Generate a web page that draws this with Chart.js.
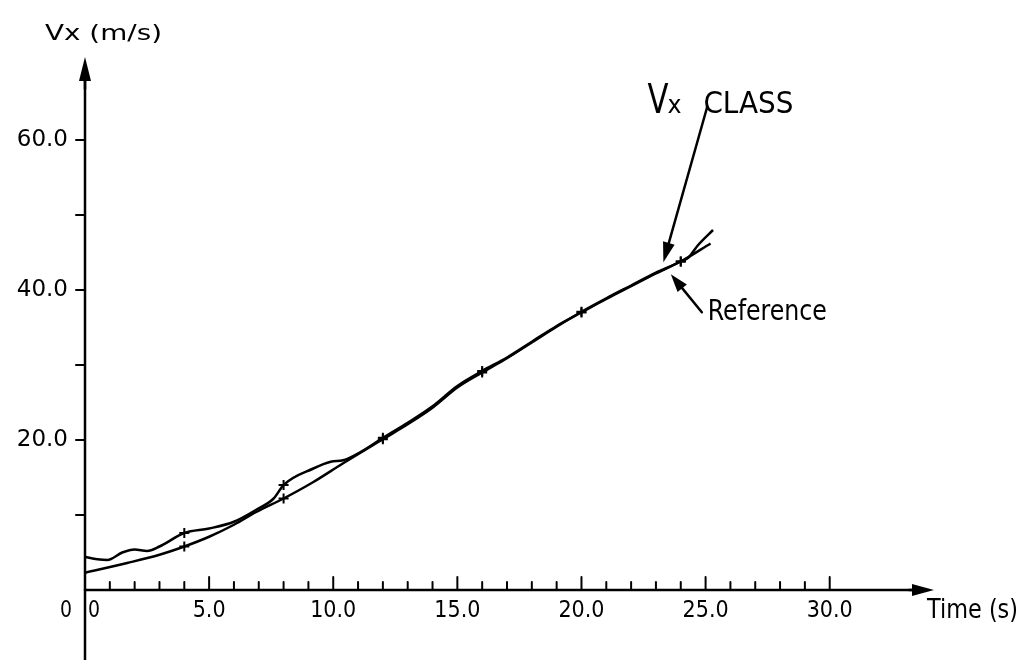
<!DOCTYPE html>
<html>
<head>
<meta charset="utf-8">
<script src="https://cdn.jsdelivr.net/npm/chart.js@4.4.1/dist/chart.umd.min.js"></script>
<style>
  html, body { margin: 0; padding: 0; background: #fff; }
  #wrap { width: 1024px; height: 660px; }
</style>
</head>
<body>
<div id="wrap"><canvas id="vxChart" width="1024" height="660"></canvas></div>
<script>
// Vx CLASS curve (wavy one)
const classTime = [0, 0.5, 0.9, 1.5, 2.0, 2.5, 3.0, 4, 5, 6, 6.9, 7.6, 8, 9.2, 9.9, 10.4, 11.1, 12, 13, 14, 15, 16, 17, 18, 19, 20, 21, 22, 23, 24, 24.3, 24.7, 25.3];
const classVx   = [4.4, 4.1, 4.0, 5.0, 5.4, 5.2, 5.8, 7.6, 8.2, 9.1, 10.7, 12.2, 14.0, 16.2, 17.1, 17.3, 18.4, 20.3, 22.3, 24.5, 27.2, 29.2, 31.0, 33.1, 35.2, 37.0, 38.8, 40.5, 42.2, 43.8, 44.3, 46.0, 48.0];

// Reference curve (smooth one)
const refTime = [0, 1.7, 3.0, 4, 5, 6, 6.9, 8, 9.2, 10.4, 12, 13, 14, 15, 16, 17, 18, 19, 20, 21, 22, 23, 24, 25.2];
const refVx   = [2.3, 3.6, 4.7, 5.8, 7.1, 8.7, 10.4, 12.2, 14.4, 16.9, 20.1, 22.1, 24.3, 27.0, 29.0, 30.9, 33.0, 35.1, 37.1, 38.9, 40.6, 42.3, 43.8, 46.2];

const markerTimes = [4, 8, 12, 16, 20, 24];
const xTickLabels = [5, 10, 15, 20, 25, 30];
const yTickLabels = [20, 40, 60];
const xTickMax = 30;
const yTickMax = 60;

// where the two annotation arrows point (time, Vx)
const classArrowAt = [23.3, 43.7];
const refArrowAt = [23.6, 42.1];

const toPoints = (ts, vs) => ts.map((t, i) => ({ x: t, y: vs[i] }));
const markerRadius = (c) => (c.raw && markerTimes.includes(c.raw.x) ? 5 : 0);

function arrow(ctx, fx, fy, tx, ty, len, half) {
  const a = Math.atan2(ty - fy, tx - fx);
  ctx.beginPath();
  ctx.moveTo(fx, fy);
  ctx.lineTo(tx - Math.cos(a) * len * 0.6, ty - Math.sin(a) * len * 0.6);
  ctx.stroke();
  ctx.beginPath();
  ctx.moveTo(tx, ty);
  ctx.lineTo(tx - Math.cos(a) * len - Math.sin(a) * half, ty - Math.sin(a) * len + Math.cos(a) * half);
  ctx.lineTo(tx - Math.cos(a) * len + Math.sin(a) * half, ty - Math.sin(a) * len - Math.cos(a) * half);
  ctx.closePath();
  ctx.fill();
}

// draw text from a left edge, squeezed to a given width
function fitText(ctx, text, left, base, size, width, family) {
  ctx.font = size + "px " + (family || "'DejaVu Sans'");
  const w = ctx.measureText(text).width;
  ctx.save();
  ctx.translate(left, base);
  ctx.scale(width / w, 1);
  ctx.textAlign = "left";
  ctx.textBaseline = "alphabetic";
  ctx.fillText(text, 0, 0);
  ctx.restore();
}

const axesPlugin = {
  id: "handAxes",
  afterDraw(chart) {
    const { ctx, chartArea, scales } = chart;
    const xs = scales.x, ys = scales.y;
    const x0 = xs.getPixelForValue(0);
    const y0 = ys.getPixelForValue(0);
    ctx.save();
    ctx.strokeStyle = "#000";
    ctx.fillStyle = "#000";
    ctx.lineCap = "round";

    // axes
    ctx.lineWidth = 2.5;
    ctx.beginPath();
    ctx.moveTo(x0, chart.height);
    ctx.lineTo(x0, chartArea.top + 10);
    ctx.stroke();
    ctx.beginPath();
    ctx.moveTo(x0, y0);
    ctx.lineTo(chartArea.right - 10, y0);
    ctx.stroke();
    arrow(ctx, x0, chartArea.top + 24, x0, chartArea.top - 8, 24, 6);
    arrow(ctx, chartArea.right - 20, y0, chartArea.right + 5, y0, 22, 6);

    // tick marks
    ctx.lineWidth = 2;
    for (let t = 1; t <= xTickMax; t++) {
      const px = xs.getPixelForValue(t);
      const len = t % 5 === 0 ? 13 : 8;
      ctx.beginPath();
      ctx.moveTo(px, y0);
      ctx.lineTo(px, y0 - len);
      ctx.stroke();
    }
    for (let v = 10; v <= yTickMax; v += 10) {
      const py = ys.getPixelForValue(v);
      ctx.beginPath();
      ctx.moveTo(x0 - 9, py);
      ctx.lineTo(x0, py);
      ctx.stroke();
    }

    // axis titles and the two zero labels
    fitText(ctx, "Vx (m/s)", 45, 40, 21, 117);
    fitText(ctx, "Time (s)", 927, 618, 26, 91);
    fitText(ctx, "0", 60, 617, 23, 12);
    fitText(ctx, "0", 88, 617, 23, 12, "'DejaVu Sans Condensed'");

    // annotations
    const cx = xs.getPixelForValue(classArrowAt[0]);
    const cy = ys.getPixelForValue(classArrowAt[1]);
    ctx.lineWidth = 2.5;
    arrow(ctx, cx + 44, cy - 156, cx, cy, 20, 6);
    fitText(ctx, "V", cx - 16, 113, 40, 21);
    fitText(ctx, "x", cx + 4, 113, 25, 14);
    fitText(ctx, "CLASS", cx + 40, 113, 31, 90);

    const rx = xs.getPixelForValue(refArrowAt[0]);
    const ry = ys.getPixelForValue(refArrowAt[1]);
    arrow(ctx, rx + 31, ry + 38, rx, ry, 18, 6);
    fitText(ctx, "Reference", rx + 37, 320, 29, 119, "'DejaVu Sans Condensed'");
    ctx.restore();
  }
};

const ctx = document.getElementById("vxChart").getContext("2d");
new Chart(ctx, {
  type: "line",
  data: {
    datasets: [
      {
        label: "Vx CLASS",
        data: toPoints(classTime, classVx),
        borderColor: "#000",
        borderWidth: 2.5,
        cubicInterpolationMode: "monotone",
        pointStyle: "cross",
        pointRadius: markerRadius,
        pointBorderColor: "#000",
        pointBorderWidth: 2,
        fill: false
      },
      {
        label: "Reference",
        data: toPoints(refTime, refVx),
        borderColor: "#000",
        borderWidth: 2.5,
        cubicInterpolationMode: "monotone",
        pointStyle: "cross",
        pointRadius: markerRadius,
        pointBorderColor: "#000",
        pointBorderWidth: 2,
        fill: false
      }
    ]
  },
  options: {
    responsive: false,
    animation: false,
    layout: { padding: { top: 65, right: 95, left: 0, bottom: 0 } },
    plugins: { legend: { display: false }, tooltip: { enabled: false } },
    scales: {
      x: {
        type: "linear",
        min: 0,
        max: 34,
        afterFit: (s) => { s.height = 70; },
        grid: { display: false, drawTicks: false },
        border: { display: false },
        ticks: {
          stepSize: 5,
          autoSkip: false,
          maxRotation: 0,
          padding: 7,
          color: "#000",
          font: { family: "'DejaVu Sans Condensed'", size: 23 },
          callback: (v) => (xTickLabels.includes(v) ? v.toFixed(1) : "")
        }
      },
      y: {
        min: 0,
        max: 70,
        afterFit: (s) => { s.width = 85; },
        grid: { display: false, drawTicks: false },
        border: { display: false },
        ticks: {
          stepSize: 20,
          padding: 17,
          color: "#000",
          font: { family: "'DejaVu Sans'", size: 23 },
          callback: (v) => (yTickLabels.includes(v) ? v.toFixed(1) : "")
        }
      }
    }
  },
  plugins: [axesPlugin]
});
</script>
</body>
</html>
